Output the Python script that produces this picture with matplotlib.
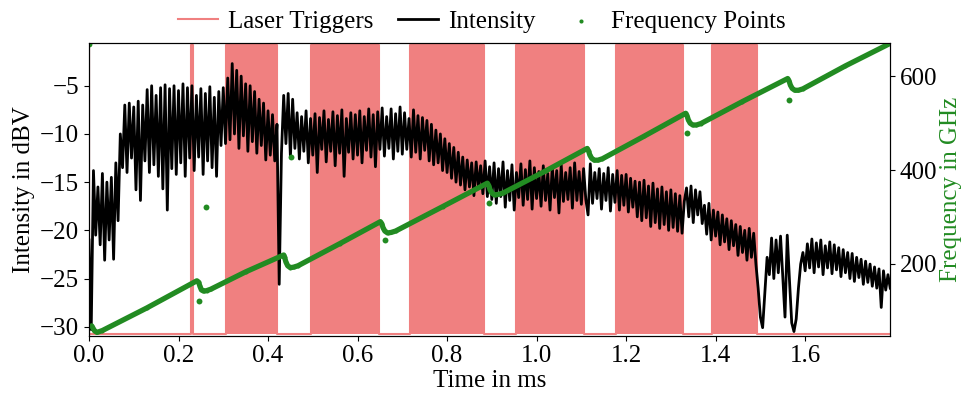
import numpy as np
import matplotlib
matplotlib.use("Agg")
import matplotlib.pyplot as plt

plt.rcParams['font.family'] = ['Liberation Serif', 'DejaVu Serif']
plt.rcParams['font.size'] = 18

# intensity trace in dBV, one value every 0.005 ms
dt = 0.005
intensity = [
    -21.0, -30.3, -13.8, -20.5, -15.5, -21.5, -14.1, -23.1, -15.0, -21.0,
    -14.5, -23.0, -13.0, -19.0, -10.0, -13.5, -7.0, -14.0, -6.8, -12.5,
    -7.2, -15.8, -6.6, -16.9, -7.0, -12.8, -5.4, -14.0, -5.0, -13.2,
    -6.0, -14.4, -5.2, -15.7, -4.9, -17.9, -5.3, -13.6, -5.0, -14.2,
    -5.5, -13.0, -4.8, -14.4, -5.2, -12.5, -5.0, -13.8, -6.0, -12.4,
    -5.3, -14.2, -5.8, -12.8, -5.1, -13.5, -6.2, -14.4, -5.6, -11.2,
    -5.2, -11.0, -4.2, -10.6, -2.7, -10.0, -3.4, -11.5, -4.0, -10.2,
    -4.8, -11.8, -5.0, -10.8, -5.6, -12.0, -6.4, -11.2, -6.8, -12.7,
    -7.6, -12.2, -8.0, -12.8, -9.0, -25.6, -12.0, -6.0, -11.0, -5.8,
    -12.4, -6.4, -11.5, -7.8, -12.6, -8.2, -11.8, -7.6, -13.0, -8.4,
    -12.2, -7.9, -14.0, -8.3, -11.6, -7.6, -12.9, -8.5, -11.8, -7.7,
    -13.3, -8.1, -12.0, -7.5, -14.4, -8.4, -11.9, -7.8, -12.6, -8.0,
    -12.2, -7.6, -13.0, -8.2, -11.7, -7.4, -12.4, -8.0, -13.4, -7.7,
    -11.6, -7.3, -12.3, -8.2, -11.5, -7.4, -12.6, -7.9, -11.8, -7.2,
    -12.1, -7.8, -11.6, -8.4, -12.4, -7.5, -11.9, -8.1, -12.6, -8.3,
    -11.7, -8.6, -12.8, -9.0, -13.2, -9.6, -13.0, -10.0, -13.8, -10.5,
    -14.0, -11.0, -14.6, -11.4, -15.0, -11.9, -15.3, -12.4, -15.8, -12.7,
    -15.5, -13.0, -16.4, -12.9, -15.6, -13.3, -16.2, -12.8, -16.5, -13.4,
    -16.8, -13.0, -17.2, -13.6, -16.5, -12.9, -17.6, -13.8, -16.9, -13.2,
    -17.9, -14.0, -16.6, -13.1, -17.4, -13.7, -16.8, -12.8, -17.8, -13.5,
    -16.7, -13.9, -17.5, -13.3, -16.9, -14.1, -17.9, -13.4, -16.6, -13.8,
    -18.2, -13.2, -17.0, -14.0, -16.8, -13.5, -17.7, -13.0, -16.9, -13.9,
    -17.3, -13.6, -16.8, -18.4, -13.1, -17.2, -14.0, -16.7, -13.6, -17.8,
    -14.1, -16.9, -13.5, -18.0, -14.2, -17.1, -13.8, -17.9, -14.3, -17.4,
    -14.2, -18.1, -14.6, -17.6, -14.9, -18.6, -15.0, -19.0, -14.8, -18.7,
    -15.4, -19.6, -15.1, -19.2, -15.7, -19.8, -15.5, -19.4, -16.0, -20.0,
    -15.8, -19.7, -16.2, -20.1, -16.4, -20.3, -17.0, -15.6, -18.6, -15.4,
    -19.2, -15.8, -18.4, -16.0, -19.3, -17.4, -20.4, -17.2, -21.0, -17.9,
    -20.6, -18.1, -21.5, -18.4, -21.2, -18.8, -22.0, -19.0, -21.6, -19.4,
    -22.6, -19.6, -22.3, -20.0, -23.1, -19.8, -22.8, -20.3, -23.5, -26.0,
    -29.0, -30.1, -26.5, -22.8, -24.6, -20.8, -25.0, -21.0, -24.4, -20.6,
    -24.9, -29.0, -20.5, -25.2, -29.6, -30.5, -29.2, -26.0, -23.5, -22.3,
    -24.2, -21.4, -23.9, -20.9, -24.4, -21.3, -23.8, -21.0, -24.6, -21.6,
    -23.9, -21.2, -24.5, -21.5, -24.1, -21.8, -24.8, -22.0, -24.4, -22.3,
    -25.0, -22.4, -25.3, -22.8, -24.9, -23.0, -25.6, -23.2, -25.4, -23.5,
    -25.8, -23.8, -26.0, -24.0, -28.0, -24.2, -26.2, -24.6, -26.0,
]

# laser trigger on-intervals in ms
trigger_start = [0.0, 0.228, 0.306, 0.496, 0.717, 0.953, 1.177, 1.391]
trigger_end = [0.001, 0.233, 0.420, 0.647, 0.882, 1.107, 1.326, 1.492]
trigger_low, trigger_high = -30.75, -0.8

# frequency sweep path (ms, GHz)
freq_t = [0.006, 0.012, 0.018, 0.030, 0.129, 0.241, 0.245, 0.248, 0.251, 0.256,
          0.263, 0.272, 0.350, 0.435, 0.437, 0.440, 0.444, 0.450, 0.457, 0.467,
          0.560, 0.651, 0.654, 0.657, 0.661, 0.667, 0.675, 0.685, 0.790, 0.890,
          0.893, 0.896, 0.900, 0.906, 0.914, 0.925, 1.020, 1.113, 1.116, 1.119,
          1.123, 1.129, 1.137, 1.147, 1.240, 1.333, 1.336, 1.339, 1.343, 1.349,
          1.357, 1.367, 1.460, 1.561, 1.564, 1.567, 1.571, 1.577, 1.585, 1.595,
          1.690, 1.790]
freq_f = [68, 58, 54, 58, 106, 164, 161, 152, 145, 142,
          143, 146, 183, 219, 214, 204, 196, 192, 193, 196,
          243, 290, 286, 277, 270, 266, 267, 270, 322, 372,
          367, 358, 351, 347, 348, 351, 398, 446, 441, 432,
          425, 421, 421, 424, 472, 521, 516, 507, 500, 496,
          496, 499, 546, 595, 590, 581, 574, 570, 570, 573,
          622, 670]
# stray frequency points
stray_t = [0.0, 0.246, 0.261, 0.452, 0.662, 0.894, 1.337, 1.565]
stray_f = [668, 120, 322, 428, 251, 329, 478, 549]

time = np.arange(len(intensity)) * dt

trig_x, trig_y = [0.0], [trigger_low]
for s, e in zip(trigger_start, trigger_end):
    trig_x += [s, s, e, e]
    trig_y += [trigger_low, trigger_high, trigger_high, trigger_low]
trig_x.append(time[-1])
trig_y.append(trigger_low)

fig = plt.figure(figsize=(9.63, 3.94), dpi=100)
ax = fig.add_axes([0.0924, 0.148, 0.832, 0.742])

ax.fill_between(trig_x, trigger_low, trig_y, color='lightcoral', lw=0)
ax.plot(trig_x, trig_y, color='lightcoral', lw=1.5, label='Laser Triggers')
ax.plot(time, intensity, color='black', lw=2.0, label='Intensity')

ax.set_xlim(0, 1.79)
ax.set_ylim(-30.93, -0.6)
ax.set_xticks(np.arange(0, 1.61, 0.2))
ax.set_yticks([-30, -25, -20, -15, -10, -5])
ax.set_xlabel('Time in ms', labelpad=2)
ax.set_ylabel('Intensity in dBV')

ax2 = ax.twinx()
ax2.plot(freq_t, freq_f, color='forestgreen', lw=3.8, solid_capstyle='round')
ax2.scatter(freq_t, freq_f, s=8, color='forestgreen', lw=0)
ax2.scatter(stray_t, stray_f, s=18, color='forestgreen', lw=0,
            label='Frequency Points')
ax2.set_ylim(47, 670)
ax2.set_yticks([200, 400, 600])
ax2.set_ylabel('Frequency in GHz', color='forestgreen', labelpad=2)

h1, l1 = ax.get_legend_handles_labels()
h2, l2 = ax2.get_legend_handles_labels()
fig.legend(h1 + h2, l1 + l2, loc='lower center', bbox_to_anchor=(0.5, 0.885),
           ncol=3, frameon=False, handlelength=1.6, handletextpad=0.4,
           columnspacing=1.0, markerscale=0.7, borderaxespad=0.1)

fig.savefig('out.png', dpi=100)
